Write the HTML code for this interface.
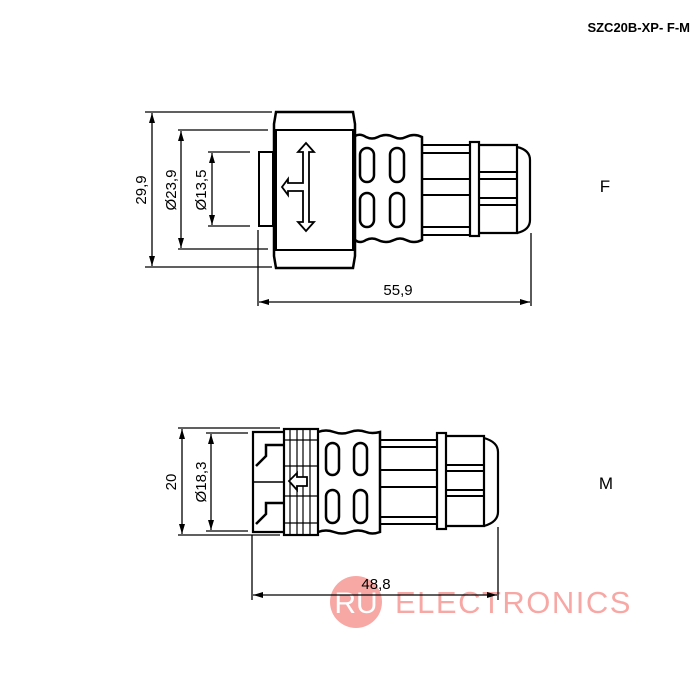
<!DOCTYPE html>
<html><head><meta charset="utf-8"><style>
html,body{margin:0;padding:0;background:#fff;width:700px;height:700px;overflow:hidden}
svg{display:block}
text{font-family:"Liberation Sans",sans-serif}
</style></head><body>
<svg width="700" height="700" viewBox="0 0 700 700" xmlns="http://www.w3.org/2000/svg">
<defs>
<marker id="a" viewBox="0 0 10 6" refX="10" refY="3" markerWidth="10" markerHeight="6" orient="auto-start-reverse" markerUnits="userSpaceOnUse"><path d="M0,0L10,3L0,6z" fill="#000"/></marker>
</defs>
<text x="690" y="32" font-size="13" font-weight="bold" text-anchor="end">SZC20B-XP- F-M</text>
<text x="605" y="192" font-size="17" text-anchor="middle">F</text>
<text x="606" y="489" font-size="17" text-anchor="middle">M</text>

<!-- watermark -->
<g opacity="0.65">
<circle cx="356" cy="602" r="26" fill="#f47a74"/>
<text x="356" y="613" font-size="30" fill="#fff" text-anchor="middle">RU</text>
<text x="395" y="613" font-size="31" fill="#f47a74" letter-spacing="1.5">ELECTRONICS</text>
</g>

<g stroke="#000" fill="none" stroke-width="1.3">
<line x1="145" y1="112" x2="272" y2="112"/>
<line x1="145" y1="267" x2="272" y2="267"/>
<line x1="152" y1="113" x2="152" y2="266" marker-start="url(#a)" marker-end="url(#a)"/>
<line x1="178" y1="130" x2="268" y2="130"/>
<line x1="178" y1="249" x2="268" y2="249"/>
<line x1="181" y1="131" x2="181" y2="248" marker-start="url(#a)" marker-end="url(#a)"/>
<line x1="208" y1="152" x2="250" y2="152"/>
<line x1="208" y1="226" x2="250" y2="226"/>
<line x1="212" y1="153" x2="212" y2="225" marker-start="url(#a)" marker-end="url(#a)"/>
<line x1="258" y1="230" x2="258" y2="306"/>
<line x1="531" y1="233" x2="531" y2="306"/>
<line x1="259" y1="302" x2="530" y2="302" marker-start="url(#a)" marker-end="url(#a)"/>

<rect x="259" y="152" width="14" height="74" stroke-width="2"/>
<path d="M276,112H353L355,124V256L353,268H276L274,256V124Z" stroke-width="2.5"/>
<rect x="276" y="130" width="77" height="120" stroke-width="2"/>
<path d="M306,143L298,152H303V183H288V179L282,187L288,195V191H303V222H298L306,231L314,222H309V152H314Z" stroke-width="1.8"/>
<path d="M355,136Q360,133 366,137Q372,140 378,137Q386,133 394,137Q400,140 406,137Q414,133 422,137V240Q414,244 406,240Q400,237 394,240Q386,244 378,240Q372,237 366,240Q360,244 355,240" stroke-width="2.5"/>
<rect x="360" y="148" width="14" height="34" rx="7" stroke-width="2.5"/>
<rect x="390" y="148" width="14" height="34" rx="7" stroke-width="2.5"/>
<rect x="360" y="193" width="14" height="34" rx="7" stroke-width="2.5"/>
<rect x="390" y="193" width="14" height="34" rx="7" stroke-width="2.5"/>
<path d="M422,145H470M422,235H470M422,153H470M422,227H470M422,179H470M422,195H470" stroke-width="2"/>
<rect x="470" y="142" width="9" height="94" stroke-width="2.2"/>
<path d="M479,145H517V233H479" stroke-width="2.2"/>
<path d="M479,172H517M479,179H517M479,198H517M479,205H517" stroke-width="2"/>
<path d="M517,147Q530,150 530,160V220Q530,230 517,233" stroke-width="2.2"/>

<line x1="178" y1="428" x2="280" y2="428"/>
<line x1="178" y1="535" x2="280" y2="535"/>
<line x1="182" y1="429" x2="182" y2="534" marker-start="url(#a)" marker-end="url(#a)"/>
<line x1="206" y1="433" x2="248" y2="433"/>
<line x1="206" y1="531" x2="248" y2="531"/>
<line x1="211" y1="434" x2="211" y2="530" marker-start="url(#a)" marker-end="url(#a)"/>
<line x1="252" y1="535" x2="252" y2="600"/>
<line x1="498" y1="527" x2="498" y2="600"/>
<line x1="253" y1="595" x2="497" y2="595" marker-start="url(#a)" marker-end="url(#a)"/>

<path d="M283,432H253V532H283" stroke-width="2.2"/>
<path d="M283,445H266V456L256,466" stroke-width="2.5"/>
<path d="M253,482H283" stroke-width="1.5"/>
<path d="M283,503H266V514L256,524" stroke-width="2.5"/>
<rect x="284" y="429" width="34" height="106" stroke-width="2.2"/>
<path d="M290,429V535M297,429V535M303,429V535M310,429V535" stroke-width="1.2"/>
<path d="M284,440H318M284,523H318M284,466H318M284,496H318" stroke-width="1.2"/>
<path d="M289,481L297,473V477H307V486H297V490Z" stroke-width="1.8" fill="#fff"/>
<path d="M318,432Q326,429 334,432Q342,435 350,432Q358,429 366,432Q372,434 380,432V532Q372,535 366,532Q358,529 350,532Q342,535 334,532Q326,529 318,532" stroke-width="2.5"/>
<rect x="326" y="443" width="13" height="32" rx="6.5" stroke-width="2.5"/>
<rect x="354" y="443" width="13" height="32" rx="6.5" stroke-width="2.5"/>
<rect x="326" y="490" width="13" height="33" rx="6.5" stroke-width="2.5"/>
<rect x="354" y="490" width="13" height="33" rx="6.5" stroke-width="2.5"/>
<path d="M380,440H437M380,524H437M380,447H437M380,517H437M380,470H437M380,487H437" stroke-width="2"/>
<rect x="437" y="433" width="9" height="96" stroke-width="2.2"/>
<path d="M446,436H484V526H446" stroke-width="2.2"/>
<path d="M446,465H484M446,471H484M446,490H484M446,496H484" stroke-width="2"/>
<path d="M484,438Q498,442 498,452V512Q498,522 484,526" stroke-width="2.2"/>
</g>

<text x="398" y="295" font-size="15" text-anchor="middle">55,9</text>
<text x="376" y="589" font-size="15" text-anchor="middle">48,8</text>
<text transform="translate(146,190) rotate(-90)" font-size="15" text-anchor="middle">29,9</text>
<text transform="translate(176,190) rotate(-90)" font-size="15" text-anchor="middle">Ø23,9</text>
<text transform="translate(206,190) rotate(-90)" font-size="15" text-anchor="middle">Ø13,5</text>
<text transform="translate(176,482) rotate(-90)" font-size="15" text-anchor="middle">20</text>
<text transform="translate(206,482) rotate(-90)" font-size="15" text-anchor="middle">Ø18,3</text>
</svg>
</body></html>
